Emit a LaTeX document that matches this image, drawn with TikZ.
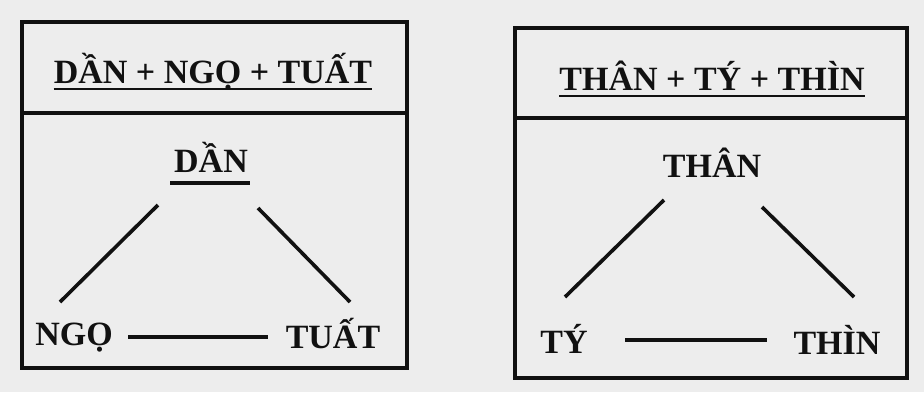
\documentclass[tikz,border=0pt]{standalone}
\usepackage{fontspec}
\setmainfont{Liberation Serif}
\usetikzlibrary{positioning,calc}
\definecolor{papel}{HTML}{EDEDED}
\definecolor{tinta}{HTML}{111111}

\begin{document}
\begin{tikzpicture}[x=1pt,y=-1pt,every node/.style={font=\bfseries\fontsize{34}{34}\selectfont,text=tinta,inner sep=0pt,anchor=base},
  caja/.style={draw=tinta,line width=3.8pt},
  raya/.style={draw=tinta,line width=3.6pt},
  subr/.style={draw=tinta,line width=1.6pt}]
        \fill[papel] (0,0) rectangle (924,392);
        \useasboundingbox (0,0) rectangle (924,392);
        % left box
        \draw[caja] (22,22) rectangle (407,368);
        \draw[caja] (22,113) -- (407,113);
        \node (tita) at (213,83) {DẦN + NGỌ + TUẤT};
        \draw[subr] ([yshift=-6]tita.base west) -- ([yshift=-6]tita.base east);
        \node (dan) at (211,172) {DẦN};
        \node (ngo) at (74,345) {NGỌ};
        \node (tuat) at (333,348) {TUẤT};
        \draw[raya] ([shift={(-41,11)}]dan.base) -- ([shift={(39,11)}]dan.base);
        \draw[raya] ([shift={(-53,33)}]dan.base) -- ([shift={(-14,-43)}]ngo.base);
        \draw[raya] ([shift={(47,36)}]dan.base) -- ([shift={(17,-46)}]tuat.base);
        \draw[raya] ([shift={(54,-8)}]ngo.base) -- ([shift={(-65,-11)}]tuat.base);
        % right box
        \draw[caja] (515,28) rectangle (907,378);
        \draw[caja] (515,118) -- (907,118);
        \node (titb) at (712,90) {THÂN + TÝ + THÌN};
        \draw[subr] ([yshift=-6]titb.base west) -- ([yshift=-6]titb.base east);
        \node (than) at (712,177) {THÂN};
        \node (ty) at (564,353) {TÝ};
        \node (thin) at (837,354) {THÌN};
        \draw[raya] ([shift={(-48,23)}]than.base) -- ([shift={(1,-56)}]ty.base);
        \draw[raya] ([shift={(50,30)}]than.base) -- ([shift={(17,-57)}]thin.base);
        \draw[raya] ([shift={(61,-13)}]ty.base) -- ([shift={(-70,-14)}]thin.base);
      \end{tikzpicture}
\end{document}
